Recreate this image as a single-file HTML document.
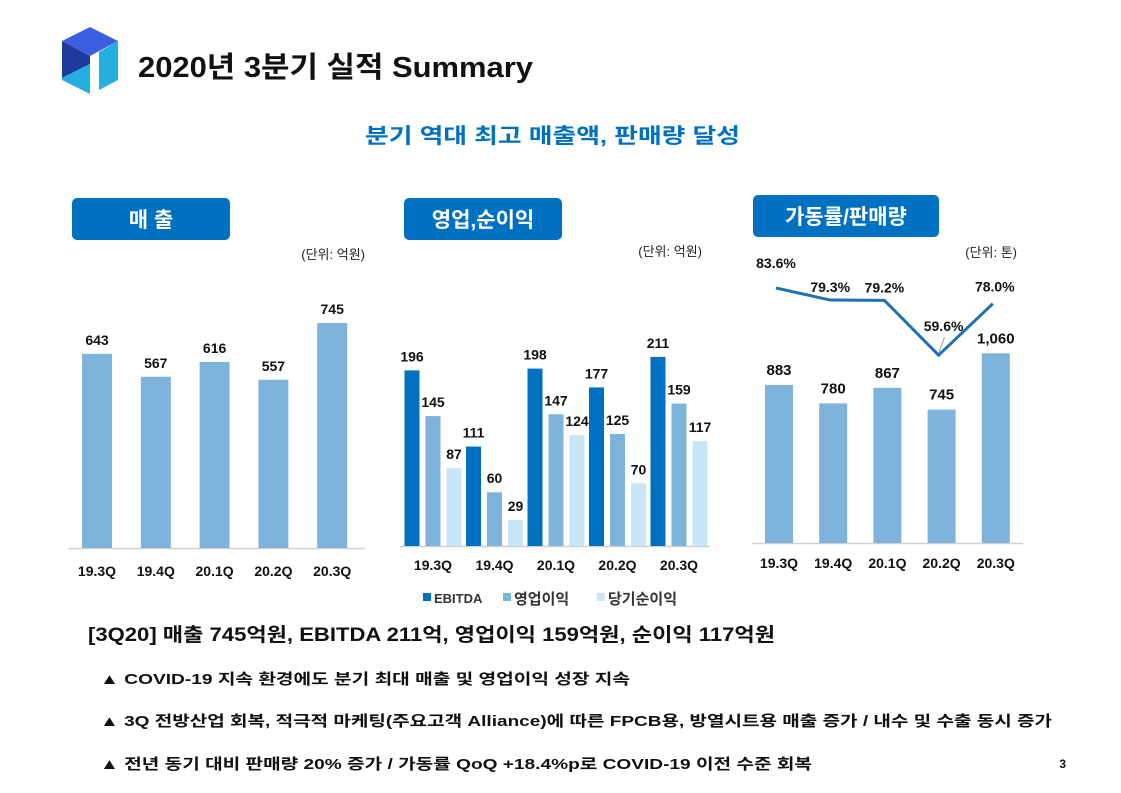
<!DOCTYPE html>
<html><head><meta charset="utf-8"><style>
body{margin:0;width:1121px;height:793px;background:#fff;overflow:hidden;font-family:"Liberation Sans","Noto Sans CJK KR",sans-serif;}
svg{position:absolute;left:0;top:0}
text{font-family:"Liberation Sans","Noto Sans CJK KR",sans-serif}
</style></head><body>
<svg width="1121" height="793">
<g>
<polygon points="62,41 90,27 118,41 90,56" fill="#3b5fe0"/>
<polygon points="62,41 90,56 90,64 62,78" fill="#1f3a9e"/>
<polygon points="62,78 90,64 90,94 62,80" fill="#23b0e0"/>
<polygon points="99,52 118,41 118,80 99,90" fill="#23b0e0"/>
</g>
<text x="138" y="77" font-size="29" font-weight="bold" fill="#111" textLength="395" lengthAdjust="spacingAndGlyphs">2020년 3분기 실적 Summary</text>
<text x="365" y="143" font-size="21" font-weight="bold" fill="#0070c0" textLength="375" lengthAdjust="spacingAndGlyphs">분기 역대 최고 매출액, 판매량 달성</text>
<rect x="72" y="198" width="158" height="42" rx="5" fill="#0070c0"/>
<text x="151" y="227" font-size="21" font-weight="bold" fill="#fff" text-anchor="middle">매 출</text>
<rect x="404" y="198" width="158" height="42" rx="5" fill="#0070c0"/>
<text x="483" y="227" font-size="21" font-weight="bold" fill="#fff" text-anchor="middle">영업,순이익</text>
<rect x="753" y="195" width="186" height="42" rx="5" fill="#0070c0"/>
<text x="846" y="224" font-size="21" font-weight="bold" fill="#fff" text-anchor="middle">가동률/판매량</text>
<text x="365" y="259" font-size="13" fill="#222" text-anchor="end">(단위: 억원)</text>
<text x="702" y="256" font-size="13" fill="#222" text-anchor="end">(단위: 억원)</text>
<text x="1017" y="257" font-size="13" fill="#222" text-anchor="end">(단위: 톤)</text>
<g id="c1"></g><g id="c2"></g><g id="c3"></g>
<g font-size="13" font-weight="bold" fill="#333">
<rect x="423" y="593" width="8" height="8" fill="#0070c0"/><text x="434" y="603">EBITDA</text>
<rect x="503" y="593" width="8" height="8" fill="#7eb3dc"/><text x="514" y="604" font-size="15">영업이익</text>
<rect x="597" y="593" width="8" height="8" fill="#c9e6f8"/><text x="608" y="604" font-size="15">당기순이익</text>
</g>
<text x="88" y="641" font-size="19" font-weight="bold" fill="#111" textLength="687" lengthAdjust="spacingAndGlyphs">[3Q20] 매출 745억원, EBITDA  211억, 영업이익 159억원, 순이익 117억원</text>
<g font-size="15" font-weight="bold" fill="#111">
<text x="100" y="684" textLength="530" lengthAdjust="spacingAndGlyphs">▲ COVID-19 지속 환경에도 분기 최대 매출 및 영업이익 성장 지속</text>
<text x="100" y="726" textLength="952" lengthAdjust="spacingAndGlyphs">▲ 3Q 전방산업 회복, 적극적 마케팅(주요고객 Alliance)에 따른 FPCB용, 방열시트용 매출 증가 / 내수 및 수출 동시 증가</text>
<text x="100" y="769" textLength="712" lengthAdjust="spacingAndGlyphs">▲ 전년 동기 대비 판매량 20% 증가 / 가동률 QoQ +18.4%p로 COVID-19 이전 수준 회복</text>
<text x="1066" y="768" font-size="12" text-anchor="end">3</text>
</g>
</svg>
<script>
const categories=["19.3Q","19.4Q","20.1Q","20.2Q","20.3Q"];
const sales=[643,567,616,557,745];
const ebitda=[196,111,198,177,211];
const opProfit=[145,60,147,125,159];
const netProfit=[87,29,124,70,117];
const volume=[883,780,867,745,1060];
const utilization=[83.6,79.3,79.2,59.6,78.0];
const volumeLabels=["883","780","867","745","1,060"];
const NS="http://www.w3.org/2000/svg";
function mk(p,t,a,txt){const e=document.createElementNS(NS,t);for(const k in a)e.setAttribute(k,a[k]);if(txt!==undefined)e.textContent=txt;p.appendChild(e);return e;}
// chart 1
const c1=document.getElementById('c1');


const y1=v=>548-v*0.302, x1=i=>97+i*58.8;
mk(c1,'line',{x1:68,x2:365,y1:548.5,y2:548.5,stroke:'#d0d0d0','stroke-width':1.5});
sales.forEach((v,i)=>{
 const r=mk(c1,'rect',{x:x1(i)-15,y:y1(v),width:30,height:548-y1(v),fill:'#7eb3dc'});
 
 
 mk(c1,'text',{x:x1(i),y:y1(v)-9,'font-size':14,'font-weight':'bold','text-anchor':'middle',fill:'#111'},String(v));
 mk(c1,'text',{x:x1(i),y:576,'font-size':14,'font-weight':'bold','text-anchor':'middle',fill:'#111'},categories[i]);
});
// chart 2
const c2=document.getElementById('c2');


const y2=v=>546-v*0.896, g2=i=>433+i*61.5;
mk(c2,'line',{x1:400,x2:710,y1:546.5,y2:546.5,stroke:'#d0d0d0','stroke-width':1.5});
[[ebitda,'#0070c0',-21],[opProfit,'#7eb3dc',0],[netProfit,'#c9e6f8',21]].forEach(([arr,col,off])=>{
 arr.forEach((v,i)=>{
  const cx=g2(i)+off;
  const r=mk(c2,'rect',{x:cx-7.5,y:y2(v),width:15,height:546-y2(v),fill:col});
  
  
  mk(c2,'text',{x:cx,y:y2(v)-9,'font-size':14,'font-weight':'bold','text-anchor':'middle',fill:'#111'},String(v));
 });
});
categories.forEach((c,i)=>mk(c2,'text',{x:g2(i),y:570,'font-size':14,'font-weight':'bold','text-anchor':'middle',fill:'#111'},c));
// chart 3
const c3=document.getElementById('c3');


const y3=v=>543-v*0.179, x3=i=>779+i*54.2;
const yl=v=>288+(83.6-v)*2.8;
mk(c3,'line',{x1:752,x2:1023,y1:543.5,y2:543.5,stroke:'#d0d0d0','stroke-width':1.5});
volume.forEach((v,i)=>{
 const r=mk(c3,'rect',{x:x3(i)-14,y:y3(v),width:28,height:543-y3(v),fill:'#7eb3dc'});
 
 
 mk(c3,'text',{x:x3(i),y:y3(v)-10,'font-size':15,'font-weight':'bold','text-anchor':'middle',fill:'#111'},volumeLabels[i]);
 mk(c3,'text',{x:x3(i),y:568,'font-size':14,'font-weight':'bold','text-anchor':'middle',fill:'#111'},categories[i]);
});
const pts=utilization.map((v,i)=>(x3(i)-3)+','+yl(v)).join(' ');
const pl=mk(c3,'polyline',{points:pts,fill:'none',stroke:'#1f6fb2','stroke-width':3});


mk(c3,'line',{x1:x3(3)-3,y1:yl(utilization[3])-2,x2:x3(3)+3,y2:yl(utilization[3])-18,stroke:'#999','stroke-width':1});
const loff=[[0,-20],[0,-8],[0,-8],[5,-24],[2,-12]];
utilization.forEach((v,i)=>{
 mk(c3,'text',{x:x3(i)-3+loff[i][0],y:yl(v)+loff[i][1],'font-size':14,'font-weight':'bold','text-anchor':'middle',fill:'#111'},v.toFixed(1)+'%');
});
</script>
</body></html>
